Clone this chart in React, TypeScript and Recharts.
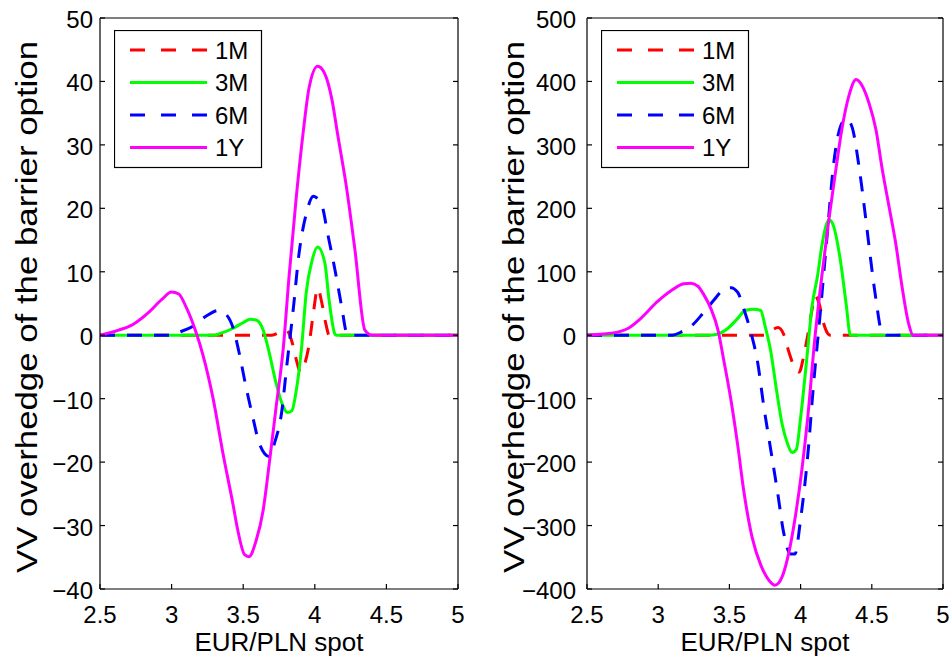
import React from 'react';
import { LineChart, Line, XAxis, YAxis, Legend, Label } from 'recharts';

// ---------- data ----------
const seriesNames = ['1M', '3M', '6M', '1Y'];
const seriesColors = ['#ff0000', '#00ff00', '#0000ff', '#ff00ff'];
const seriesDashed = [true, false, true, false];

const xTicks = [2.5, 3, 3.5, 4, 4.5, 5];
const leftYTicks = [-40, -30, -20, -10, 0, 10, 20, 30, 40, 50];
const rightYTicks = [-400, -300, -200, -100, 0, 100, 200, 300, 400, 500];

const xLabel = 'EUR/PLN spot';
const yLabel = 'VV overhedge of the barrier option';

// left panel
const left1M_x = [2.5, 3.7, 3.76, 3.8, 3.84, 3.87, 3.9, 3.93, 3.96, 3.99, 4.02, 4.05, 4.08, 4.1, 4.13, 5.0];
const left1M_y = [0, 0, 0.5, 0.8, -1, -3.8, -5.8, -4.5, -1.5, 3.5, 7.4, 5.0, 1.5, 0, 0, 0];

const left3M_x = [2.5, 3.3, 3.33, 3.43, 3.5, 3.55, 3.59, 3.64, 3.68, 3.73, 3.77, 3.81, 3.84, 3.87, 3.91, 3.94, 3.98, 4.02, 4.07, 4.1, 4.14, 4.15, 5.0];
const left3M_y = [0, 0, 0.2, 1.1, 2.0, 2.5, 2.4, 0.8, -2.6, -7.6, -10.7, -12.2, -11.9, -8.8, -1.4, 6.7, 11.7, 13.9, 11.4, 5.5, 0.2, 0, 0];

const left6M_x = [2.5, 3.0, 3.03, 3.15, 3.24, 3.33, 3.38, 3.43, 3.47, 3.52, 3.57, 3.61, 3.68, 3.72, 3.77, 3.8, 3.85, 3.89, 3.94, 3.99, 4.05, 4.09, 4.14, 4.19, 4.22, 4.24, 5.0];
const left6M_y = [0, 0, 0.3, 1.4, 3.0, 3.9, 3.3, 1.1, -2.6, -8.2, -13.2, -16.9, -19.1, -16.9, -11.9, -5.7, 4.2, 12.9, 19.1, 21.9, 20.4, 16, 10.4, 4.2, 0.5, 0, 0];

const left1Y_x = [2.5, 2.63, 2.73, 2.84, 2.93, 3.0, 3.05, 3.1, 3.17, 3.22, 3.29, 3.36, 3.43, 3.46, 3.51, 3.54, 3.59, 3.64, 3.68, 3.73, 3.78, 3.82, 3.87, 3.92, 3.96, 4.02, 4.07, 4.12, 4.16, 4.22, 4.28, 4.35, 4.4, 5.0];
const left1Y_y = [0, 0.8, 1.7, 3.6, 5.6, 6.8, 6.5, 4.5, 0.5, -3.2, -10, -18.8, -26.8, -30.5, -34.6, -34.9, -32.4, -27.5, -20.6, -11.3, -2, 9.2, 21.6, 32.2, 39, 42.4, 41.2, 37.1, 31.6, 23.5, 13.5, 0.8, 0, 0];

// right panel
const right1M_x = [2.5, 3.75, 3.8, 3.84, 3.88, 3.92, 3.96, 3.99, 4.02, 4.05, 4.08, 4.1, 4.13, 4.16, 4.19, 4.21, 5.0];
const right1M_y = [0, 0, 8, 12, 2, -28, -52, -58, -35, 0, 40, 62, 50, 20, 3, 0, 0];

const right3M_x = [2.5, 3.35, 3.42, 3.49, 3.56, 3.61, 3.67, 3.72, 3.75, 3.79, 3.83, 3.87, 3.91, 3.94, 3.97, 4.0, 4.04, 4.08, 4.12, 4.15, 4.2, 4.23, 4.28, 4.32, 4.35, 5.0];
const right3M_y = [0, 0, 2, 11, 27, 39, 41, 39, 15, -25, -85, -140, -172, -185, -180, -130, -45, 45, 95, 142, 182, 173, 117, 49, 0, 0];

const right6M_x = [2.5, 3.1, 3.16, 3.23, 3.32, 3.39, 3.46, 3.51, 3.56, 3.6, 3.65, 3.7, 3.74, 3.79, 3.84, 3.88, 3.93, 3.96, 4.0, 4.05, 4.09, 4.14, 4.19, 4.23, 4.28, 4.32, 4.36, 4.41, 4.46, 4.49, 4.53, 4.57, 4.6, 5.0];
const right6M_y = [0, 0, 5, 14, 36, 55, 72, 75, 67, 42, 5, -45, -110, -180, -250, -310, -345, -345, -290, -190, -80, 40, 167, 266, 329, 341, 329, 266, 179, 123, 55, 5, 0, 0];

const right1Y_x = [2.5, 2.67, 2.79, 2.88, 2.99, 3.09, 3.18, 3.23, 3.28, 3.32, 3.37, 3.42, 3.46, 3.51, 3.56, 3.6, 3.66, 3.72, 3.78, 3.82, 3.87, 3.92, 3.96, 4.01, 4.05, 4.1, 4.15, 4.2, 4.25, 4.29, 4.34, 4.39, 4.43, 4.48, 4.53, 4.57, 4.62, 4.67, 4.71, 4.76, 4.79, 5.0];
const right1Y_y = [0, 3, 11, 27, 52, 70, 81, 82, 77, 64, 42, 8, -39, -101, -176, -244, -319, -362, -387, -394, -381, -340, -290, -210, -130, -5, 95, 185, 265, 325, 378, 403, 394, 366, 323, 266, 204, 142, 80, 17, 0, 0];

// ---------- helpers ----------
const FONT = '"Liberation Sans", Arial, Helvetica, sans-serif';
const fmt = (v: number) => (v < 0 ? '\u2212' + Math.abs(v) : String(v));
const toPts = (xs: number[], ys: number[]) => xs.map((x, i) => ({ x, y: ys[i] }));

const leftSeries = [
  toPts(left1M_x, left1M_y),
  toPts(left3M_x, left3M_y),
  toPts(left6M_x, left6M_y),
  toPts(left1Y_x, left1Y_y),
];
const rightSeries = [
  toPts(right1M_x, right1M_y),
  toPts(right3M_x, right3M_y),
  toPts(right6M_x, right6M_y),
  toPts(right1Y_x, right1Y_y),
];

const XTick = (props: any) => {
  const { x, y, payload } = props;
  return (
    <text x={x} y={y + 34} textAnchor="middle" fontSize={24} fontFamily={FONT} fill="#000">
      {fmt(payload.value)}
    </text>
  );
};

const makeYTick = (gap: number) => (props: any) => {
  const { x, y, payload } = props;
  return (
    <text x={x - gap} y={y + 10} textAnchor="end" fontSize={24} fontFamily={FONT} fill="#000">
      {fmt(payload.value)}
    </text>
  );
};

const EmptyTick = () => <g />;

const LegendBox = () => (
  <svg width={149} height={139} style={{ display: 'block' }}>
    <rect x={0.5} y={0.5} width={147} height={137} fill="#fff" stroke="#000" strokeWidth={1.2} />
    {seriesNames.map((name, i) => {
      const cy = 20 + i * 32.5;
      return (
        <g key={name}>
          <line
            x1={16}
            x2={93}
            y1={cy}
            y2={cy}
            stroke={seriesColors[i]}
            strokeWidth={3}
            strokeDasharray={seriesDashed[i] ? '15 16' : undefined}
          />
          <text x={101} y={cy + 8.5} fontSize={24} fontFamily={FONT} fill="#000">
            {name}
          </text>
        </g>
      );
    })}
  </svg>
);

type PanelProps = {
  left: number;
  width: number;
  rightMargin: number;
  yTicks: number[];
  series: { x: number; y: number }[][];
  gap: number;
};

const Panel = ({ left, width, rightMargin, yTicks, series, gap }: PanelProps) => {
  const yDomain = [yTicks[0], yTicks[yTicks.length - 1]];
  return (
    <div style={{ position: 'absolute', left, top: 0 }}>
      <LineChart width={width} height={660} margin={{ top: 17, right: rightMargin, bottom: 0, left: 0 }}>
        <XAxis
          dataKey="x"
          type="number"
          domain={[2.5, 5]}
          ticks={xTicks}
          allowDataOverflow
          height={71}
          tickSize={-5}
          tickMargin={5}
          tick={XTick}
          stroke="#000"
          strokeWidth={1.2}
          interval={0}
        >
          <Label
            content={() => (
              <text x={100 + (width - rightMargin - 1 - 100) / 2} y={651} textAnchor="middle" fontSize={26} fontFamily={FONT} fill="#000">
                {xLabel}
              </text>
            )}
          />
        </XAxis>
        <XAxis
          xAxisId="top"
          orientation="top"
          type="number"
          domain={[2.5, 5]}
          ticks={xTicks}
          allowDataOverflow
          height={1}
          tickSize={-5}
          tick={EmptyTick}
          stroke="#000"
          strokeWidth={1.2}
          interval={0}
        />
        <YAxis
          type="number"
          domain={yDomain}
          ticks={yTicks}
          allowDataOverflow
          width={100}
          tickSize={-5}
          tickMargin={5}
          tick={makeYTick(gap)}
          stroke="#000"
          strokeWidth={1.2}
          interval={0}
        >
          <Label
            content={() => (
              <text
                transform="translate(37, 307) rotate(-90)"
                textAnchor="middle"
                fontSize={30}
                fontFamily={FONT}
                fill="#000"
                textLength={532}
                lengthAdjust="spacingAndGlyphs"
              >
                {yLabel}
              </text>
            )}
          />
        </YAxis>
        <YAxis
          yAxisId="right"
          orientation="right"
          type="number"
          domain={yDomain}
          ticks={yTicks}
          allowDataOverflow
          width={1}
          tickSize={-5}
          tick={EmptyTick}
          stroke="#000"
          strokeWidth={1.2}
          interval={0}
        />
        {series.map((pts, i) => (
          <Line
            key={seriesNames[i]}
            data={pts}
            dataKey="y"
            name={seriesNames[i]}
            type="monotone"
            stroke={seriesColors[i]}
            strokeWidth={3}
            strokeDasharray={seriesDashed[i] ? '15 12' : undefined}
            strokeLinejoin="round"
            dot={false}
            activeDot={false}
            isAnimationActive={false}
          />
        ))}
        <Legend
          layout="vertical"
          align="center"
          verticalAlign="middle"
          content={() => <LegendBox />}
          wrapperStyle={{ position: 'absolute', left: 114, top: 30, width: 149, height: 139 }}
        />
      </LineChart>
    </div>
  );
};

export default function App() {
  return (
    <div style={{ position: 'absolute', left: 0, top: 0, width: 951, height: 660, background: '#fff', overflow: 'hidden' }}>
      <Panel left={0} width={475} rightMargin={16} yTicks={leftYTicks} series={leftSeries} gap={7} />
      <Panel left={487} width={464} rightMargin={7} yTicks={rightYTicks} series={rightSeries} gap={11} />
    </div>
  );
}
